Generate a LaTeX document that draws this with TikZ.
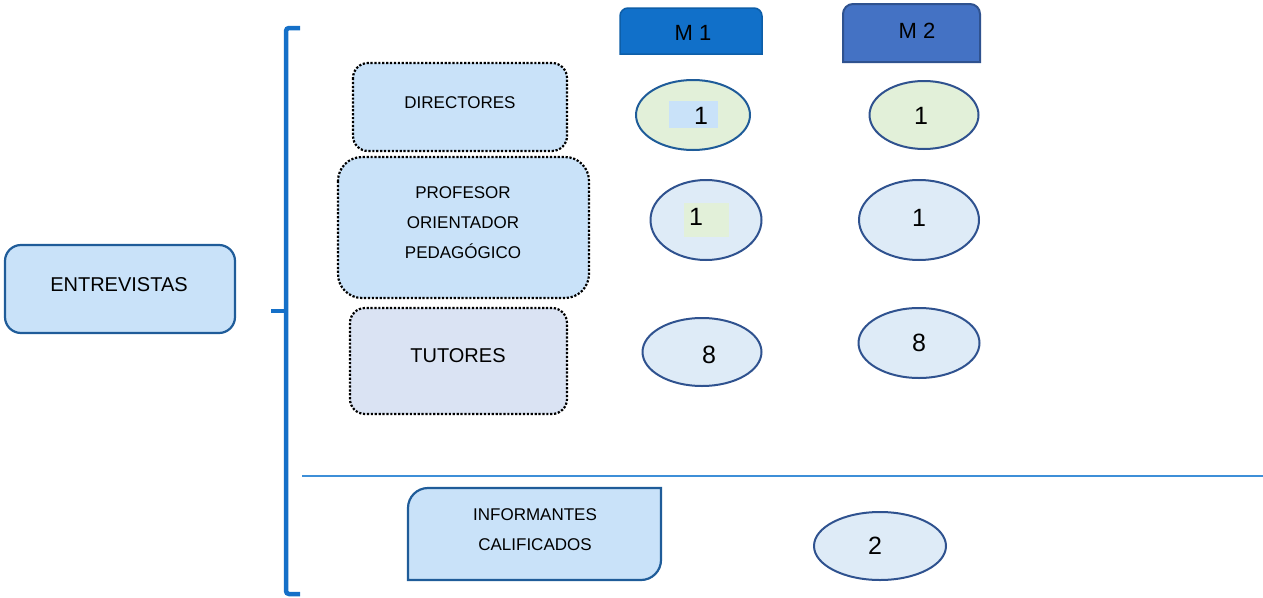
\documentclass[tikz,border=0pt]{standalone}
\usepackage{fontspec}
\setmainfont{Liberation Sans}
\usetikzlibrary{shapes.geometric}
\definecolor{lblue}{HTML}{C9E2F9}
\definecolor{dborder}{HTML}{1F5C99}
\definecolor{brk}{HTML}{1570C8}
\definecolor{mone}{HTML}{1170C9}
\definecolor{monebd}{HTML}{0D5EA8}
\definecolor{mtwo}{HTML}{4472C4}
\definecolor{mtwobd}{HTML}{2F528F}
\definecolor{lgreen}{HTML}{E2F0D9}
\definecolor{ellfill}{HTML}{DEEBF7}
\definecolor{tutfill}{HTML}{DAE3F3}
\definecolor{sepline}{HTML}{3E8FD8}
\definecolor{ellbd}{HTML}{2F528F}
\tikzset{
  dotbox/.style={draw=black, line width=2.2pt, dash pattern=on 2.2pt off 1.7pt, rounded corners=15pt},
  solidbox/.style={draw=dborder, line width=2.2pt, fill=lblue},
  lbl/.style={font=\fontsize{17}{30}\selectfont, align=center, inner sep=0pt},
  biglbl/.style={font=\fontsize{20}{24}\selectfont, inner sep=0pt},
  numlbl/.style={font=\fontsize{25}{28}\selectfont, inner sep=0pt},
  mlbl/.style={font=\fontsize{22}{24}\selectfont, inner sep=0pt},
  ell/.style={ellipse, draw=ellbd, line width=2pt, fill=ellfill, inner sep=0pt},
  brace/.style={draw=brk, line width=4.5pt},
}
\begin{document}
\begin{tikzpicture}[x=1pt,y=-1pt]
\useasboundingbox (0,0) rectangle (1263,597);
% ENTREVISTAS
\draw[solidbox, rounded corners=16pt] (5,245) rectangle (235,333);
\node[biglbl] (entr) at (119,285) {ENTREVISTAS};
% bracket
\draw[brace, rounded corners=3pt] (300,28) -- (286,28) -- (286,594) -- (300,594);
\coordinate (bmid) at (286,311);
\coordinate (btick) at (271,311);
\draw[brace] (btick) -- (bmid);
% separator line
\coordinate (sepL) at (302,476);
\coordinate (sepR) at (1263,476);
\draw[sepline, line width=1.4pt] (sepL) -- (sepR);
% dotted boxes
\draw[dotbox, fill=lblue] (353,63) rectangle (567,151);
\node[lbl] (dir) at (460,103) {DIRECTORES};
\draw[dotbox, fill=lblue, rounded corners=24pt] (338,157) rectangle (589,298);
\node[lbl] (prof) at (463,223) {PROFESOR\\ORIENTADOR\\PEDAGÓGICO};
\draw[dotbox, fill=tutfill] (350,308) rectangle (567,414);
\node[biglbl] (tut) at (458,356) {TUTORES};
% informantes
\draw[solidbox] (408,580) -- (408,508) arc (180:270:20) -- (661,488) -- (661,560) arc (0:90:20) -- cycle;
\node[lbl] (inf) at (535,530) {INFORMANTES\\ CALIFICADOS};
% M headers
\draw[fill=mone, draw=monebd, line width=1.5pt] (620,54) -- (620,16) arc (180:270:8) -- (754,8) arc (270:360:8) -- (762,54) -- cycle;
\node[mlbl] (m1) at (693,33) {M 1};
\draw[fill=mtwo, draw=mtwobd, line width=2pt] (843,62) -- (843,14) arc (180:270:10) -- (970,4) arc (270:360:10) -- (980,62) -- cycle;
\node[mlbl] (m2) at (917,31) {M 2};
% ellipses row 1
\node[ell, fill=lgreen, draw=dborder, minimum width=114pt, minimum height=70pt] (e11) at (693,115) {};
\fill[lblue] (669,101) rectangle (718,128);
\node[numlbl] (n11) at (701,116) {1};
\node[ell, fill=lgreen, minimum width=109pt, minimum height=68pt] (e12) at (924,115) {};
\node[numlbl] (n12) at (921,116) {1};
% row 2
\node[ell, minimum width=111pt, minimum height=80pt] (e21) at (706,220) {};
\fill[lgreen] (684,203) rectangle (729,237);
\node[numlbl] (n21) at (696,217) {1};
\node[ell, minimum width=120pt, minimum height=80pt] (e22) at (919,220) {};
\node[numlbl] (n22) at (919,218) {1};
% row 3
\node[ell, minimum width=119pt, minimum height=68pt] (e31) at (702,352) {};
\node[numlbl] (n31) at (709,355) {8};
\node[ell, minimum width=121pt, minimum height=70pt] (e32) at (919,343) {};
\node[numlbl] (n32) at (919,343) {8};
% informantes ellipse
\node[ell, minimum width=132pt, minimum height=68pt] (e4) at (880,546) {};
\node[numlbl] (n4) at (875,546) {2};
\end{tikzpicture}
\end{document}
